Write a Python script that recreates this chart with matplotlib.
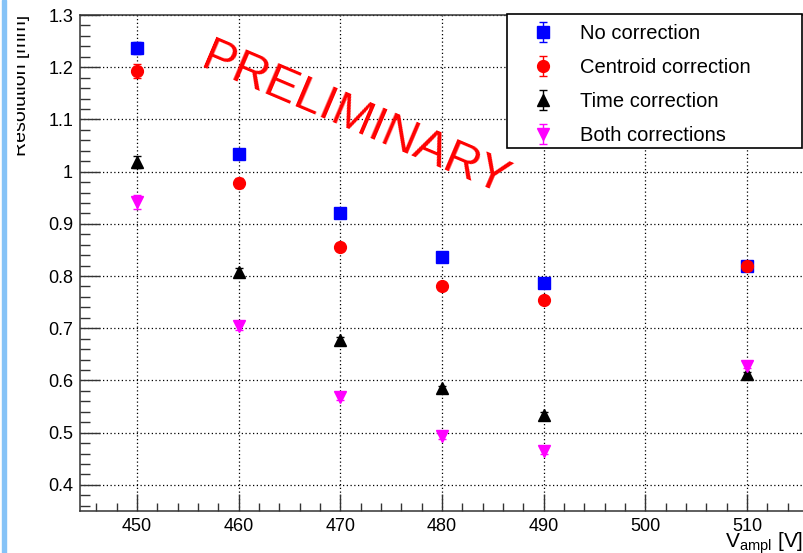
import matplotlib
matplotlib.use("Agg")
import matplotlib.pyplot as plt
from matplotlib.patches import Rectangle
from matplotlib.ticker import MultipleLocator, FuncFormatter

plt.rcParams['font.family'] = ['Liberation Sans', 'DejaVu Sans']
plt.rcParams['mathtext.fontset'] = 'custom'
plt.rcParams['mathtext.rm'] = 'Liberation Sans'

# data
voltage = [450, 460, 470, 480, 490, 510]
no_corr = [1.237, 1.034, 0.921, 0.836, 0.787, 0.819]
no_corr_err = [0.012, 0.008, 0.007, 0.006, 0.006, 0.007]
centroid = [1.193, 0.978, 0.856, 0.781, 0.754, 0.820]
centroid_err = [0.013, 0.009, 0.007, 0.006, 0.006, 0.007]
time_corr = [1.018, 0.808, 0.677, 0.585, 0.534, 0.612]
time_err = [0.012, 0.007, 0.006, 0.005, 0.005, 0.005]
both = [0.942, 0.704, 0.568, 0.493, 0.465, 0.628]
both_err = [0.013, 0.007, 0.006, 0.005, 0.005, 0.005]

labels = ['No correction', 'Centroid correction', 'Time correction', 'Both corrections']
colors = ['#0000ff', '#ff0000', '#000000', '#ff00ff']
markers = ['s', 'o', '^', 'v']

W, H = 804, 553
fig = plt.figure(figsize=(W / 100, H / 100), dpi=100)
ax = fig.add_axes([80 / W, (H - 511) / H, 730 / W, 496 / H])

series = [(no_corr, no_corr_err), (centroid, centroid_err), (time_corr, time_err), (both, both_err)]
for (vals, errs), lab, c, m in zip(series, labels, colors, markers):
    ax.errorbar(voltage, vals, yerr=errs, fmt=m, color=c, ecolor=c, ms=8.5,
                elinewidth=1, capsize=3, capthick=1, label=lab, zorder=3)

ax.set_xlim(444.4, 516.2)
ax.set_ylim(0.35, 1.3)
ax.xaxis.set_major_locator(MultipleLocator(10))
ax.xaxis.set_minor_locator(MultipleLocator(2))
ax.yaxis.set_major_locator(MultipleLocator(0.1))
ax.yaxis.set_minor_locator(MultipleLocator(0.02))
ax.yaxis.set_major_formatter(FuncFormatter(lambda v, p: '%g' % round(v, 2)))
ax.grid(True, which='major', color='black', linestyle=(0, (1, 2)), linewidth=0.9)
ax.set_axisbelow(True)

ax.tick_params(axis='both', which='both', direction='in', colors='#333333',
               labelcolor='black', labelsize=13, width=1)
ax.tick_params(axis='x', which='major', length=12.5, pad=5)
ax.tick_params(axis='x', which='minor', length=5.5)
ax.tick_params(axis='y', which='major', length=14.5, pad=5)
ax.tick_params(axis='y', which='minor', length=7.2)
ax.tick_params(top=False, right=False)
for s in ax.spines.values():
    s.set_color('#333333')
    s.set_linewidth(1.1)

ax.text(471.5, 1.099, 'PRELIMINARY', color='red', fontsize=35, rotation=-23,
        ha='center', va='center', zorder=4)

# legend without frame, plus its white box underneath
box = Rectangle((507 / W, 1 - 148 / H), 295 / W, 134 / H,
                transform=fig.transFigure, facecolor='white',
                edgecolor='black', linewidth=1.2, zorder=4.5, clip_on=False)
ax.add_patch(box)
leg = ax.legend(loc='upper left', bbox_to_anchor=(518 / W, 1 - 14 / H),
                bbox_transform=fig.transFigure, frameon=False, fontsize=14.5,
                handlelength=1.5, handletextpad=1.09, borderpad=0.49,
                labelspacing=0.75, borderaxespad=0)
leg.set_zorder(6)

# x axis title
fig.text(803 / W, 6 / H, r'$\mathrm{V}_{\mathrm{ampl}}$ [V]', fontsize=15,
         ha='right', va='baseline')

# left side: cut y title and blue bar
fig.patches.append(Rectangle((2 / W, 0), 4 / W, 1, transform=fig.transFigure,
                             color='#86c3f7', zorder=5))
cax = fig.add_axes([17 / W, 0, 30 / W, 1])
cax.set_axis_off()
ylab = cax.text(26 / W, 1 - 15 / H, 'Resolution [mm]', transform=fig.transFigure,
                rotation=90, rotation_mode='anchor', ha='right', va='baseline',
                fontsize=14, clip_on=True)
ylab.set_clip_box(cax.bbox)

fig.savefig('out.png', dpi=100)
